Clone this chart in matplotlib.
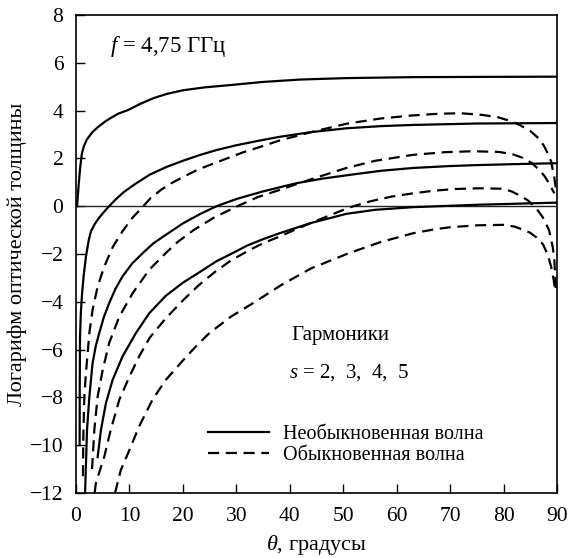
import numpy as np
import matplotlib
matplotlib.use("Agg")
import matplotlib.pyplot as plt

plt.rcParams['font.family'] = ['Liberation Serif', 'DejaVu Serif']
plt.rcParams['mathtext.fontset'] = 'custom'
plt.rcParams['mathtext.rm'] = 'Liberation Serif'
plt.rcParams['mathtext.it'] = 'Liberation Serif:italic'

# необыкновенная волна (сплошные), s = 2..5
x_e2 = [0.2, 0.5, 0.8, 1.1, 1.44, 2.0, 3.0, 4.2, 5.5, 6.7, 8.0, 9.8, 12, 14.5, 17, 20, 24, 29.4, 35, 42, 50.6,
        63, 75, 90]
y_e2 = [0, 0.9, 1.66, 2.2, 2.49, 2.78, 3.08, 3.33, 3.55, 3.72, 3.88, 4.03, 4.28, 4.52, 4.7, 4.85, 4.97, 5.08, 5.2,
        5.3, 5.36, 5.4, 5.41, 5.42]
x_e3 = [0.68, 0.7, 0.75, 0.9, 1.12, 1.44, 1.87, 2.4, 2.8, 3.5, 4.2, 5.2, 6.2, 7.5, 9, 11, 13.8, 17, 20, 23,
        26.3, 30, 34, 38, 44, 50.6, 57, 63, 75, 90]
y_e3 = [-10, -7.5, -5.5, -4.5, -3.7, -2.9, -2.1, -1.4, -1.05, -0.75, -0.52, -0.25, 0, 0.3, 0.6, 0.92, 1.32, 1.65,
        1.9, 2.13, 2.35, 2.55, 2.73, 2.9, 3.1, 3.26, 3.35, 3.4, 3.46, 3.48]
x_e4 = [1.7, 1.87, 2.06, 2.5, 3.1, 3.7, 4.36, 5.2, 6.2, 7.4, 8.7, 10.5, 12.5, 14.5, 16.8, 20, 23.2, 26.3, 30,
        35, 41.2, 46, 51.2, 57, 63.1, 70, 75, 82, 90]
y_e4 = [-12, -10.75, -9.36, -7.97, -6.57, -5.85, -5.3, -4.65, -4.06, -3.45, -2.94, -2.4, -1.96, -1.55, -1.2,
        -0.72, -0.33, 0, 0.3, 0.62, 0.96, 1.15, 1.31, 1.48, 1.6, 1.68, 1.72, 1.76, 1.8]
x_e5 = [4.05, 4.67, 5.6, 6.85, 8.7, 11.2, 13.7, 16.8, 20, 23.2, 26.3, 29, 32, 35, 38.1, 44, 50.6, 56, 63.1, 75, 90]
y_e5 = [-10.5, -9.36, -8.24, -7.27, -6.29, -5.31, -4.48, -3.75, -3.2, -2.75, -2.3, -2.0, -1.65, -1.38, -1.13,
        -0.7, -0.32, -0.15, -0.04, 0.06, 0.15]

# обыкновенная волна (штриховые)
x_o2 = [1.3, 1.37, 1.56, 1.85, 2.18, 2.5, 3.1, 4.05, 5.3, 6.85, 8.7, 10.5, 12.6, 14, 16, 18, 20, 23, 26.5,
        31.2, 35, 38.1, 44, 50.6, 57, 63.1, 68, 72, 76, 79, 81.5, 83, 85, 86.5, 87.5, 88.3, 88.9, 89.5, 89.9]
y_o2 = [-11.3, -9.64, -7.96, -7.0, -6.15, -5.3, -4.34, -3.36, -2.52, -1.72, -1.05, -0.5, 0, 0.35, 0.7, 0.98,
        1.22, 1.55, 1.85, 2.25, 2.52, 2.75, 3.1, 3.45, 3.67, 3.8, 3.87, 3.89, 3.82, 3.72, 3.55, 3.4, 3.15,
        2.85, 2.55, 2.2, 1.87, 1.2, 0.54]
x_o3 = [3.0, 3.43, 4.05, 5.0, 6.2, 8.1, 10.6, 13.7, 16.8, 19, 22, 26, 30.7, 34, 38.1, 41.2, 45, 50.6, 56,
        63.1, 69, 74.3, 79.2, 81.8, 83.6, 85.3, 86.7, 87.7, 88.5, 89.5]
y_o3 = [-11.0, -9.36, -7.96, -6.85, -5.73, -4.62, -3.64, -2.66, -1.96, -1.5, -1.0, -0.45, 0.05, 0.38, 0.68,
        0.92, 1.2, 1.6, 1.9, 2.15, 2.26, 2.3, 2.27, 2.17, 2.02, 1.8, 1.52, 1.25, 0.96, 0.54]
x_o4 = [3.5, 3.7, 5.3, 6.5, 8.1, 10, 11.8, 13.8, 16.8, 20.1, 23, 26, 29, 32.5, 35, 38.1, 41, 44, 47.5, 51.2,
        55, 59, 63.1, 67, 71, 75.5, 79.9, 81.5, 83, 84.5, 86, 87.3, 88.5, 89.2, 89.5, 89.8]
y_o4 = [-12, -11.6, -10.47, -9.36, -8.1, -7.13, -6.29, -5.5, -4.69, -3.92, -3.3, -2.75, -2.27, -1.83, -1.55,
        -1.27, -0.98, -0.7, -0.38, -0.05, 0.2, 0.4, 0.54, 0.65, 0.72, 0.75, 0.73, 0.62, 0.45, 0.25, -0.05,
        -0.45, -0.99, -1.7, -2.2, -3.6]
x_o5 = [7.3, 8.4, 10, 11.8, 14.3, 16.8, 20.1, 22.5, 25, 29, 33.1, 38.4, 44, 51, 57, 63.1, 67, 70, 75, 79.9,
        82, 83.5, 84.9, 86.3, 87.4, 88.3, 88.9, 89.4, 89.7]
y_o5 = [-12, -11.03, -10.2, -9.22, -8.1, -7.27, -6.43, -5.85, -5.3, -4.62, -4.06, -3.3, -2.6, -1.97, -1.5,
        -1.13, -0.97, -0.88, -0.8, -0.78, -0.85, -0.97, -1.1, -1.33, -1.6, -2.05, -2.53, -3.1, -3.64]

extra = [(x_e2, y_e2), (x_e3, y_e3), (x_e4, y_e4), (x_e5, y_e5)]
ordin = [(x_o2, y_o2), (x_o3, y_o3), (x_o4, y_o4), (x_o5, y_o5)]

fig = plt.figure(figsize=(5.68, 5.58), dpi=100)
ax = fig.add_axes([0.1338, 0.1165, 0.8468, 0.8566])

ax.axhline(0, color='#222222', linewidth=1.0)

lines_e = []
for xs, ys in extra:
    l, = ax.plot(xs, ys, color='black', linewidth=1.6, solid_joinstyle='round')
    lines_e.append(l)
lines_o = []
for xs, ys in ordin:
    l, = ax.plot(xs, ys, color='black', linewidth=1.6, linestyle=(0, (5, 3)))
    lines_o.append(l)

ax.set_xlim(0, 90)
ax.set_ylim(-12, 8)
ax.set_xticks(np.arange(0, 91, 10))
ax.set_yticks(np.arange(-12, 9, 2))
ax.tick_params(direction='in', length=6.5, width=1.0, labelsize=15.5, top=False, right=False)
ax.tick_params(axis='x', pad=10)
ax.tick_params(axis='y', pad=9)
for sp in ax.spines.values():
    sp.set_linewidth(1.2)

ax.set_xlabel(r'$\theta$, градусы', fontsize=16, labelpad=5)
ax.set_ylabel('Логарифм оптической толщины', fontsize=16, labelpad=2)

ax.text(6.4, 6.67, '$f$ = 4,75 ГГц', fontsize=16.5, va='center')
ax.text(40.3, -5.39, 'Гармоники', fontsize=15, va='center')
ax.text(39.8, -6.97, '$s$ = 2,  3,  4,  5', fontsize=15, va='center')

ax.legend([lines_e[0], lines_o[0]], ['Необыкновенная волна', 'Обыкновенная волна'],
          loc='upper left', bbox_to_anchor=(0.274, 0.143), frameon=False,
          fontsize=14.5, handlelength=3.05, handletextpad=0.7,
          labelspacing=0.1, borderpad=0, borderaxespad=0)

fig.savefig('out.png', dpi=100)
